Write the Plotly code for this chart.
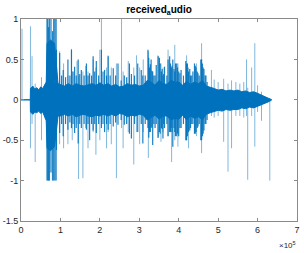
import plotly.graph_objects as go

# Dense (solid) core envelope of the waveform; positions in units of 1e4 samples
env_pos = [0, 2.35, 2.4, 3, 3.5, 4, 4.5, 5, 5.5, 6, 6.4, 6.6, 7.5, 8.5, 9.0, 9.4,
           10, 11, 12, 13, 14, 15, 16, 17, 18, 19, 20, 21, 22, 23, 24, 25,
           26, 27, 28, 29, 30, 31, 32, 33, 34, 35, 36, 37, 38, 39, 40, 41,
           42, 43, 44, 45, 46, 47, 48, 49, 50, 51, 52, 53, 54, 55, 56,
           57, 58, 59, 60, 61, 62, 63, 63.6]
env_hi = [0, 0, 0.14, 0.17, 0.13, 0.15, 0.12, 0.16, 0.14, 0.18, 0.22, 0.7, 0.74, 0.7, 0.4, 0.2,
          0.19, 0.17, 0.2, 0.17, 0.2, 0.18, 0.17, 0.19, 0.2, 0.18, 0.21, 0.18, 0.2, 0.17, 0.19, 0.16,
          0.17, 0.2, 0.18, 0.19, 0.17, 0.18, 0.24, 0.22, 0.18, 0.24, 0.2, 0.19, 0.24, 0.22, 0.22, 0.18,
          0.23, 0.19, 0.22, 0.2, 0.24, 0.17, 0.15, 0.14, 0.12, 0.13, 0.11, 0.12, 0.11, 0.12, 0.1,
          0.11, 0.09, 0.1, 0.08, 0.06, 0.04, 0.02, 0.0]
env_lo = [0, 0, -0.15, -0.18, -0.15, -0.16, -0.14, -0.17, -0.15, -0.2, -0.26, -0.6, -0.63, -0.58, -0.38, -0.2,
          -0.2, -0.18, -0.2, -0.18, -0.21, -0.19, -0.18, -0.2, -0.21, -0.19, -0.2, -0.18, -0.2, -0.18, -0.2, -0.17,
          -0.18, -0.21, -0.19, -0.2, -0.18, -0.19, -0.25, -0.22, -0.19, -0.24, -0.2, -0.2, -0.25, -0.23, -0.24, -0.19,
          -0.25, -0.2, -0.23, -0.21, -0.25, -0.18, -0.16, -0.15, -0.13, -0.14, -0.12, -0.13, -0.12, -0.12, -0.1,
          -0.11, -0.09, -0.1, -0.08, -0.06, -0.04, -0.02, 0.0]

# Dark bursts inside syllables: position (1e4 samples), top, bottom
dark_pos = [9.0, 9.8, 10.3, 10.7, 11.3, 11.9, 12.4, 12.8, 13.2, 13.6, 14.0, 14.5, 14.9, 15.3,
            16.0, 16.6, 17.0, 17.4, 17.9, 18.3, 18.7, 19.1, 19.7, 20.4, 20.8, 21.2, 21.7,
            22.1, 22.6, 23.4, 24.0, 24.6, 25.4, 26.2, 26.8, 27.5, 28.0, 28.8, 29.6, 30.5,
            30.9, 31.5, 32.2, 32.6, 33.0, 33.4, 34.0, 34.3, 35.1, 35.6, 36.0, 36.4, 37.0,
            37.7, 38.1, 38.5, 39.0, 39.5, 40.0, 40.6, 41.2, 42.0, 42.5, 43.0, 43.6, 44.2,
            44.7, 45.2, 45.8, 46.2, 46.7, 47.2,
            32.4, 32.8, 33.2, 33.7, 34.8, 35.3, 35.8, 36.2, 37.3, 37.9, 38.3, 38.8,
            39.2, 39.7, 40.3, 41.8, 42.2, 42.8, 43.3, 44.0, 44.4, 44.9, 45.6, 46.0,
            46.4, 46.9]
dark_top = [0.62, 0.58, 0.3, 0.37, 0.28, 0.5, 0.3, 0.62, 0.35, 0.41, 0.3, 0.5, 0.32, 0.37,
            0.3, 0.45, 0.3, 0.33, 0.3, 0.54, 0.35, 0.48, 0.3, 0.62, 0.35, 0.37, 0.3,
            0.54, 0.3, 0.39, 0.3, 0.45, 0.24, 0.3, 0.28, 0.45, 0.32, 0.3, 0.45, 0.37,
            0.3, 0.3, 0.62, 0.4, 0.5, 0.35, 0.3, 0.43, 0.52, 0.35, 0.3, 0.41, 0.3,
            0.54, 0.4, 0.5, 0.35, 0.45, 0.35, 0.37, 0.3, 0.45, 0.35, 0.3, 0.35, 0.42,
            0.35, 0.3, 0.5, 0.4, 0.3, 0.22,
            0.52, 0.44, 0.36, 0.3, 0.54, 0.45, 0.38, 0.32, 0.5, 0.45, 0.42, 0.38,
            0.45, 0.4, 0.33, 0.48, 0.45, 0.38, 0.3, 0.45, 0.4, 0.33, 0.5, 0.45,
            0.38, 0.3]
dark_bot = [-0.62, -0.41, -0.3, -0.45, -0.3, -0.37, -0.28, -0.35, -0.3, -0.41, -0.35, -0.54, -0.3, -0.35,
            -0.3, -0.37, -0.3, -0.5, -0.3, -0.38, -0.3, -0.41, -0.3, -0.35, -0.3, -0.4, -0.3,
            -0.37, -0.3, -0.33, -0.28, -0.31, -0.25, -0.31, -0.3, -0.42, -0.48, -0.3, -0.4, -0.3,
            -0.54, -0.3, -0.35, -0.4, -0.35, -0.56, -0.35, -0.3, -0.4, -0.35, -0.48, -0.35, -0.3,
            -0.4, -0.35, -0.58, -0.4, -0.45, -0.45, -0.35, -0.3, -0.5, -0.4, -0.35, -0.3, -0.42,
            -0.35, -0.3, -0.5, -0.42, -0.3, -0.25,
            -0.47, -0.4, -0.34, -0.3, -0.47, -0.42, -0.36, -0.3, -0.45, -0.4, -0.4, -0.35,
            -0.45, -0.42, -0.35, -0.5, -0.45, -0.38, -0.3, -0.42, -0.4, -0.33, -0.5, -0.45,
            -0.38, -0.3]

# Clipped burst lines (positions in 1e4 samples)
clip_pos = [6.6, 6.8, 7.0, 7.2, 7.6, 8.0, 8.3, 8.6, 8.9]
clip_top = [1, 1, 0.9, 1, 1, 0.85, 1, 1, 1]
clip_bot = [-1, -1, -1, -1, -0.9, -1, -1, -1, -1]

# Isolated thin spikes: position (1e4 samples), top, bottom
spike_pos = [0.25, 2.4, 2.8, 3.6, 5.2, 9.8, 10.8, 11.9, 12.8, 13.0, 14.2, 14.6, 15.7,
             16.4, 17.0, 18.3, 19.0, 20.0, 20.4, 21.7, 22.1, 22.9, 24.2, 25.5, 25.9,
             27.2, 28.6, 29.3, 30.1, 31.0, 32.3, 34.7, 35.5, 36.0, 37.3, 38.2, 39.0,
             39.8, 42.0, 42.5, 44.5, 45.8, 48.3, 49.0, 50.0, 51.4, 52.5, 53.4, 54.5,
             55.5, 56.5, 57.2, 57.5, 58.5, 59.3, 60.0, 61.0, 63.1]
spike_top = [0.88, 0.91, 0.54, 0.2, 0.28, 0.6, 0.45, 0.3, 0.63, 0.35, 0.48, 0.3, 0.35,
             0.42, 0.35, 0.5, 0.4, 0.62, 1.0, 0.4, 0.55, 0.4, 0.45, 1.0, 0.35,
             0.48, 0.4, 0.55, 0.4, 0.5, 0.6, 0.55, 0.45, 0.4, 0.62, 0.4, 0.68,
             0.45, 0.55, 0.4, 0.45, 0.7, 0.37, 0.25, 0.22, 0.26, 0.2, 0.24, 0.22,
             0.2, 0.22, 0.5, 0.15, 0.4, 0.7, 0.18, 0.1, 0.02]
spike_bot = [0, -0.6, -0.3, -0.77, -0.5, -0.55, -0.6, -0.55, -0.35, -0.5, -0.3, -0.98, -0.97,
             -0.35, -0.6, -0.4, -0.68, -0.5, -0.3, -0.6, -0.4, -0.55, -0.97, -0.35, -0.6,
             -0.4, -0.8, -0.4, -0.55, -0.4, -0.72, -0.47, -0.52, -0.4, -0.45, -0.77, -0.5,
             -0.58, -0.5, -0.6, -0.45, -0.66, -0.2, -0.22, -0.2, -0.52, -0.89, -0.6, -0.2,
             -0.2, -0.22, -0.2, -0.99, -0.2, -0.58, -0.15, -0.26, -1.0]

x_tick_vals = [0, 1, 2, 3, 4, 5, 6, 7]
x_tick_text = ['0', '1', '2', '3', '4', '5', '6', '7']
y_tick_vals = [-1.5, -1, -0.5, 0, 0.5, 1]
y_tick_text = ['-1.5', '-1', '-0.5', '0', '0.5', '1']

SCALE = 1e4
BLUE = '#0072BD'


def segments(pos, top, bot):
    xs, ys = [], []
    for p, t, b in zip(pos, top, bot):
        xs += [p * SCALE, p * SCALE, None]
        ys += [b, t, None]
    return xs, ys


fig = go.Figure()

sx, sy = segments(spike_pos, spike_top, spike_bot)
fig.add_trace(go.Scatter(x=sx, y=sy, mode='lines',
                         line=dict(color='rgba(0,114,189,0.5)', width=1),
                         hoverinfo='skip', showlegend=False))

cx, cy = segments(clip_pos, clip_top, clip_bot)
fig.add_trace(go.Scatter(x=cx, y=cy, mode='lines',
                         line=dict(color='rgba(0,114,189,0.85)', width=1.3),
                         hoverinfo='skip', showlegend=False))

dx, dy = segments(dark_pos, dark_top, dark_bot)
fig.add_trace(go.Scatter(x=dx, y=dy, mode='lines',
                         line=dict(color='rgba(0,114,189,0.9)', width=1.2),
                         hoverinfo='skip', showlegend=False))

px = [p * SCALE for p in env_pos]
fig.add_trace(go.Scatter(x=px + px[::-1], y=env_hi + env_lo[::-1],
                         mode='lines', fill='toself', fillcolor=BLUE,
                         line=dict(color=BLUE, width=1),
                         hoverinfo='skip', showlegend=False))

axis_common = dict(showline=True, linecolor='#8a8a8a', linewidth=1, mirror='ticks',
                   ticks='inside', ticklen=3, tickcolor='#8a8a8a', showgrid=False,
                   zeroline=False, automargin=False,
                   tickfont=dict(family='Liberation Sans, Arial', size=9, color='#262626'))

fig.update_xaxes(range=[0, 7e5], tickvals=[v * 1e5 for v in x_tick_vals], ticktext=x_tick_text,
                 **axis_common)
fig.update_yaxes(range=[-1.5, 1], tickvals=y_tick_vals, ticktext=y_tick_text, **axis_common)

fig.update_layout(
    width=304, height=253,
    margin=dict(l=21, r=7, t=19, b=32),
    paper_bgcolor='white', plot_bgcolor='white',
    title=dict(text='<b>received<sub>a</sub>udio</b>', x=0.5, xref='paper', xanchor='center',
               y=0.975, yanchor='top',
               font=dict(family='Liberation Sans, Arial', size=10, color='black')),
    annotations=[dict(text='×10<sup>5</sup>', xref='paper', yref='paper', x=1.005, y=-0.085,
                      xanchor='right', yanchor='top', showarrow=False,
                      font=dict(family='Liberation Sans, Arial', size=8, color='#262626'))],
)

fig.write_html('out.html', config={'displayModeBar': False},
               post_script="document.body.style.margin='0';document.body.style.padding='0';")
